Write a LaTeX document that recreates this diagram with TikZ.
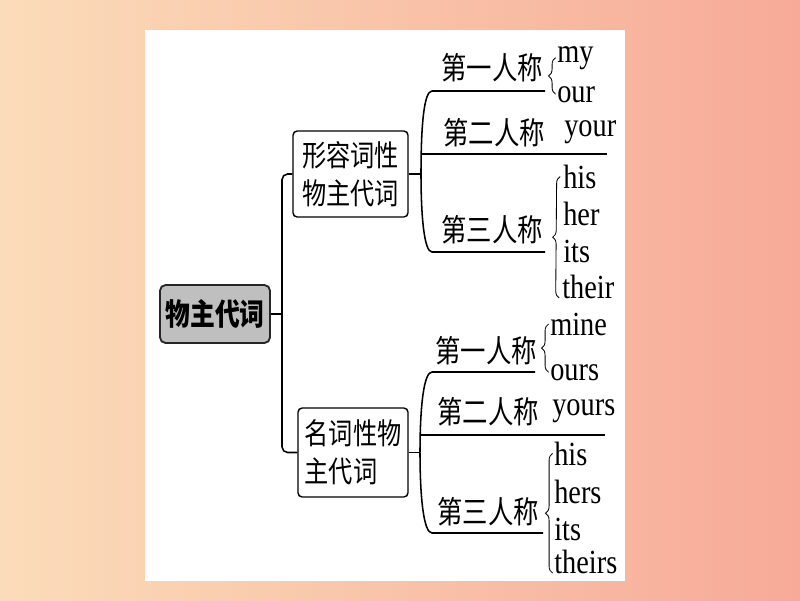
\documentclass[tikz,border=0pt]{standalone}
\usepackage{fontspec}
\usepackage{tikz}
\usetikzlibrary{decorations.pathreplacing}
\setmainfont{Liberation Serif}[FakeStretch=0.84]
\newfontfamily\cjk{Noto Sans CJK SC}[FakeStretch=0.82]

\definecolor{bgleft}{RGB}{251,220,185}
\definecolor{bgright}{RGB}{247,170,152}

\tikzset{
    rootbox/.style={draw=black!85, line width=1.3pt, fill=black!25, rounded corners=4pt,
        minimum width=2.75cm, minimum height=1.45cm, inner sep=0pt,
        font=\cjk\bfseries\fontsize{21.5}{26}\selectfont},
    groupbox/.style={draw, line width=1pt, rounded corners=3pt, inner sep=0pt, align=left,
        font=\cjk\fontsize{21}{27}\selectfont},
    person/.style={inner sep=0pt, font=\cjk\fontsize{22}{24}\selectfont},
    pron/.style={inner sep=0pt, anchor=base west, font=\fontsize{24}{26}\selectfont},
    branch/.style={line width=1.1pt},
    pbrace/.style={decorate, decoration={brace, amplitude=5pt}, line width=0.6pt}
}

\begin{document}
\begin{tikzpicture}[x=0.025cm,y=-0.025cm]

    % Background
    \useasboundingbox (0,0) rectangle (800,600);
    \shade[left color=bgleft, right color=bgright] (0,0) rectangle (800,600);
    \fill[white] (145,30) rectangle (625,581);

    % ROOT
    \node[rootbox] (root) at (215,314) {物主代词};
    \coordinate (trunk) at (282,314);

    % Group boxes
    \node[groupbox, minimum width=2.875cm, minimum height=2.15cm] (adj) at (350.5,174) {形容词性\\物主代词};
    \node[groupbox, minimum width=2.75cm, minimum height=2.225cm] (nom) at (353,452.5) {名词性物\\主代词};

    % Trunk
    \draw[branch] (root.east) -- (trunk);
    \draw[branch, rounded corners=4pt] (adj.west) -| (trunk) |- (nom.west);

    % UPPER BRANCH
    \coordinate (ja) at (421,174);
    \node[person] (a1) at (492,68) {第一人称};
    \node[person] (a2) at (494,133) {第二人称};
    \node[person] (a3) at (492,230) {第三人称};
    \coordinate (a1l) at (432,91);  \coordinate (a1r) at (545,91);
    \coordinate (a2l) at (422,154); \coordinate (a2r) at (607,154);
    \coordinate (a3l) at (432,252); \coordinate (a3r) at (545,252);

    \draw[branch] (adj.east) -- (ja);
    \draw[branch] (ja) .. controls (421,125) and (424,91) .. (a1l) -- (a1r);
    \draw[branch] (a2l) -- (a2r);
    \draw[branch] (ja) .. controls (421,215) and (424,252) .. (a3l) -- (a3r);

    % Pronouns
    \node[pron] (my) at (557,62) {my};
    \node[pron] (our) at (557,102) {our};
    \node[pron] (your) at (564,136) {your};
    \node[pron] (his) at (563,188) {his};
    \node[pron] (her) at (563,225) {her};
    \node[pron] (its) at (563,262) {its};
    \node[pron] (their) at (562,298) {their};

    \draw[pbrace] ([xshift=-1pt]our.west) -- ([xshift=-1pt]my.west);
    \draw[pbrace] ([xshift=-2pt]their.base west) -- ([xshift=-2pt]his.west);

    % LOWER BRANCH
    \coordinate (jb) at (420,452.5);
    \node[person] (b1) at (486,351) {第一人称};
    \node[person] (b2) at (488,412) {第二人称};
    \node[person] (b3) at (488,512) {第三人称};
    \coordinate (b1l) at (432,372); \coordinate (b1r) at (535,372);
    \coordinate (b2l) at (421,435); \coordinate (b2r) at (605,435);
    \coordinate (b3l) at (432,533); \coordinate (b3r) at (543,533);

    \draw[branch] (nom.east) -- (jb);
    \draw[branch] (jb) .. controls (420,405) and (424,372) .. (b1l) -- (b1r);
    \draw[branch] (b2l) -- (b2r);
    \draw[branch] (jb) .. controls (420,500) and (424,533) .. (b3l) -- (b3r);

    % Pronouns
    \node[pron] (mine) at (550,335) {mine};
    \node[pron] (ours) at (550,380) {ours};
    \node[pron] (yours) at (552,415) {yours};
    \node[pron] (his2) at (554,465) {his};
    \node[pron] (hers) at (554,503) {hers};
    \node[pron] (its2) at (554,540) {its};
    \node[pron] (theirs) at (554,573) {theirs};

    \draw[pbrace] ([xshift=-1pt]ours.west) -- ([xshift=-1pt]mine.west);
    \draw[pbrace] ([xshift=-1pt]theirs.base west) -- ([xshift=-1pt]his2.west);

\end{tikzpicture}
\end{document}
